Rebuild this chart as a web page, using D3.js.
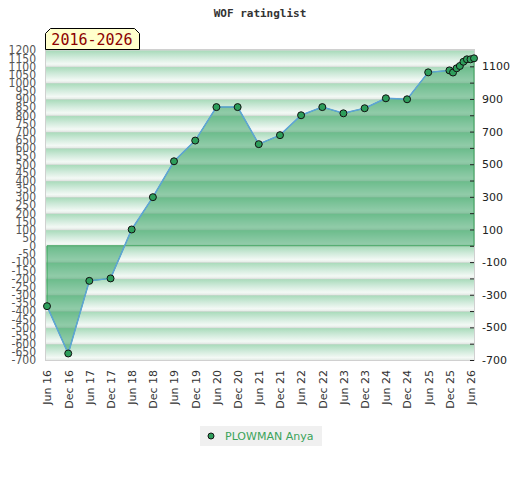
<!DOCTYPE html>
<html>
<head>
<meta charset="utf-8">
<script src="https://cdn.jsdelivr.net/npm/d3@7"></script>
<style>
  body { margin: 0; background: #fff; }
  svg { display: block; }
</style>
</head>
<body>
<div class="chart"></div>
<script>
// rating list dates and values
var dates = ["2016-06", "2016-12", "2017-06", "2017-12", "2018-06", "2018-12",
             "2019-06", "2019-12", "2020-06", "2020-12", "2021-06", "2021-12",
             "2022-06", "2022-12", "2023-06", "2023-12", "2024-06", "2024-12",
             "2025-06", "2025-12", "2026-01", "2026-02", "2026-03", "2026-04",
             "2026-05", "2026-06", "2026-07"];
var ratings = [-370, -660, -215, -200, 100, 298, 518, 645, 850, 850, 623, 678,
               800, 850, 812, 843, 904, 898, 1063, 1075, 1062, 1088, 1102, 1128,
               1143, 1143, 1149];
var tickDates = ["2016-06", "2016-12", "2017-06", "2017-12", "2018-06", "2018-12",
                 "2019-06", "2019-12", "2020-06", "2020-12", "2021-06", "2021-12",
                 "2022-06", "2022-12", "2023-06", "2023-12", "2024-06", "2024-12",
                 "2025-06", "2025-12", "2026-06"];
var leftTicks = d3.range(-700, 1201, 50);
var rightTicks = d3.range(-700, 1101, 100);
var rightLabels = [-700, -500, -300, -100, 100, 300, 500, 700, 900, 1100];
var playerName = "PLOWMAN Anya";
var title = "WOF ratinglist";
var period = "2016-2026";

var w = 520, h = 480;
var plotL = 46, plotR = 474, plotT = 50, plotB = 360;
var parse = d3.timeParse("%Y-%m");
var plain = function(d) { return String(d); };

var data = dates.map(function(d, i) { return {date: parse(d), value: ratings[i]}; });

var x = d3.scaleTime()
  .domain([parse("2016-06"), parse("2026-07")])
  .range([plotL + 1, plotR]);
var y = d3.scaleLinear()
  .domain([-700, 1200])
  .range([plotB, plotT]);

var svg = d3.select(".chart").append("svg")
  .attr("width", w)
  .attr("height", h);

var defs = svg.append("defs");
var grad = defs.append("linearGradient")
  .attr("id", "band")
  .attr("x1", 0).attr("y1", 0).attr("x2", 0).attr("y2", 1);
grad.append("stop").attr("offset", 0).attr("stop-color", "#d4d4d4");
grad.append("stop").attr("offset", 0.08).attr("stop-color", "#acdcbd");
grad.append("stop").attr("offset", 0.45).attr("stop-color", "#cfeada");
grad.append("stop").attr("offset", 0.85).attr("stop-color", "#f3f9f5");
grad.append("stop").attr("offset", 1).attr("stop-color", "#e4ebe6");

// striped background, one band per 100 points
svg.append("g").selectAll("rect")
  .data(d3.range(1200, -700, -100))
  .enter()
  .append("rect")
  .attr("x", plotL)
  .attr("y", function(d) { return y(d); })
  .attr("width", plotR - plotL)
  .attr("height", function(d) { return y(d - 100) - y(d); })
  .attr("fill", "url(#band)");

svg.append("rect")
  .attr("x", plotL - 0.5).attr("y", plotT - 0.5)
  .attr("width", plotR - plotL + 1).attr("height", plotB - plotT + 1)
  .attr("fill", "none")
  .attr("stroke", "#d0d0d0");

// filled area between rating and zero
var poly = [{date: data[0].date, value: 0}].concat(data)
  .concat([{date: data[data.length - 1].date, value: 0}]);
svg.append("path")
  .datum(poly)
  .attr("d", d3.line()
    .x(function(d) { return x(d.date); })
    .y(function(d) { return y(d.value); })
    .curve(d3.curveLinearClosed))
  .attr("fill", "#2e9e5b")
  .attr("fill-opacity", 0.5)
  .attr("stroke", "#3aa35a")
  .attr("stroke-width", 1);

svg.append("path")
  .datum(data)
  .attr("d", d3.line()
    .x(function(d) { return x(d.date); })
    .y(function(d) { return y(d.value); }))
  .attr("fill", "none")
  .attr("stroke", "#5ea4d8")
  .attr("stroke-width", 1.5);

svg.append("g").selectAll("circle")
  .data(data)
  .enter()
  .append("circle")
  .attr("cx", function(d) { return x(d.date); })
  .attr("cy", function(d) { return y(d.value); })
  .attr("r", 3.5)
  .attr("fill", "#2e9e5b")
  .attr("stroke", "#111")
  .attr("stroke-width", 1);

// left axis, crowded labels
var gl = svg.append("g")
  .attr("transform", "translate(" + (plotL - 10) + ",0)")
  .call(d3.axisLeft(y).tickValues(leftTicks).tickSize(0).tickPadding(0).tickFormat(plain));
gl.select(".domain").remove();
gl.selectAll("text")
  .attr("font-family", "DejaVu Sans Condensed")
  .attr("font-size", 12)
  .attr("fill", "#555");

// right axis
var gr = svg.append("g")
  .attr("transform", "translate(" + plotR + ",0)")
  .call(d3.axisRight(y).tickValues(rightTicks).tickSize(-4).tickPadding(8)
    .tickFormat(function(d) { return rightLabels.indexOf(d) >= 0 ? plain(d) : ""; }));
gr.select(".domain").remove();
gr.selectAll("line").attr("stroke", "#222");
gr.selectAll("text")
  .attr("font-family", "DejaVu Sans")
  .attr("font-size", 11)
  .attr("fill", "#222");

// bottom axis, rotated labels
var gb = svg.append("g")
  .attr("transform", "translate(0," + (plotB + 10) + ")")
  .call(d3.axisBottom(x).tickValues(tickDates.map(parse)).tickSize(0).tickPadding(0)
    .tickFormat(d3.timeFormat("%b %y")));
gb.select(".domain").remove();
gb.selectAll("text")
  .attr("font-family", "DejaVu Sans")
  .attr("font-size", 11)
  .attr("fill", "#333")
  .attr("text-anchor", "end")
  .attr("dy", "0.35em")
  .attr("transform", "rotate(-90)")
  .attr("x", 0)
  .attr("y", 0);

svg.append("text")
  .attr("x", 260).attr("y", 17)
  .attr("text-anchor", "middle")
  .attr("font-family", "DejaVu Sans Mono")
  .attr("font-weight", "bold")
  .attr("font-size", 11)
  .attr("fill", "#333")
  .text(title);

// period tag
svg.append("path")
  .attr("d", "M45.5,49.5 V33.5 L50.5,28.5 H134.5 L139.5,33.5 V49.5 Z")
  .attr("fill", "#ffffcc")
  .attr("stroke", "#000")
  .attr("stroke-width", 1);
svg.append("text")
  .attr("x", 92).attr("y", 45)
  .attr("text-anchor", "middle")
  .attr("font-family", "DejaVu Sans Mono")
  .attr("font-size", 15)
  .attr("fill", "#8b0000")
  .text(period);

// legend
svg.append("rect")
  .attr("x", 200).attr("y", 426)
  .attr("width", 122).attr("height", 20)
  .attr("fill", "#f0f0f0");
svg.append("circle")
  .attr("cx", 211).attr("cy", 436).attr("r", 3)
  .attr("fill", "#2e9e5b")
  .attr("stroke", "#111");
svg.append("text")
  .attr("x", 225).attr("y", 440)
  .attr("font-family", "DejaVu Sans")
  .attr("font-size", 11)
  .attr("fill", "#3aa35a")
  .text(playerName);
</script>
</body>
</html>
